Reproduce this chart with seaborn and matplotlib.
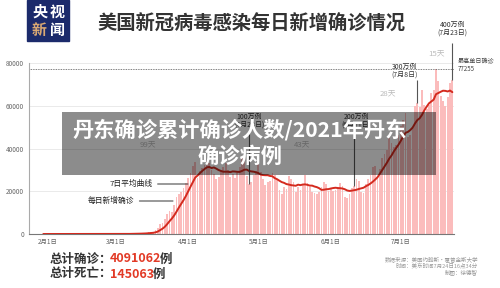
import numpy as np
import pandas as pd
import matplotlib
matplotlib.use('Agg')
import matplotlib.pyplot as plt
import seaborn as sns
from matplotlib.patches import Rectangle

#---------------data: US daily new cases, 30 Jan - 23 Jul-----------------
jan_cases = [1, 1]
feb_cases = [1, 0, 3, 0, 1, 0, 0, 0, 0, 1, 1, 0, 1, 0, 0, 0, 0, 0, 0, 0,
             0, 2, 0, 0, 0, 3, 1, 1, 6]
mar_cases = [8, 23, 20, 31, 68, 45, 140, 116, 65, 290, 271, 287, 351, 511, 777,
             823, 887, 1766, 2988, 4835, 5374, 7123, 9397, 10571, 10347, 13355,
             17224, 18691, 19452, 21500, 24000]
apr_cases = [26000, 28500, 32000, 33500, 26000, 29500, 31000, 32500, 34000, 33000,
             30000, 28000, 25500, 26500, 29500, 31500, 33000, 30000, 26500, 28000,
             26000, 28500, 31500, 36000, 34000, 27000, 23500, 24500, 27500, 29500]
may_cases = [33500, 29000, 25500, 23000, 24500, 25000, 28500, 27500, 25500, 20500,
             18500, 22000, 21000, 27000, 25500, 24500, 19500, 22000, 20500, 23000,
             27500, 24000, 22000, 19500, 19000, 18500, 19500, 22000, 24500, 23500,
             20000]
jun_cases = [21000, 20000, 20500, 21000, 24000, 22500, 17500, 17000, 18500, 21500,
             22500, 25500, 25000, 19500, 19000, 23500, 25500, 27500, 31500, 32000,
             27000, 30500, 35500, 37500, 39500, 45000, 42500, 40500, 41500, 46500]
jul_cases = [50500, 53500, 56500, 45500, 46500, 49500, 60000, 61500, 59500, 67500,
             60500, 58500, 60500, 66000, 67500, 77255, 71500, 64500, 62000, 60000,
             64000, 70500, 72000]
first_day = -2   # 30 Jan, counted from 1 Feb

tick_days = [0, 29, 60, 90, 121, 151]
tick_labels = ['2月1日', '3月1日', '4月1日', '5月1日', '6月1日', '7月1日']
y_ticks = [0, 20000, 40000, 60000, 80000]

milestone_days = [86, 131, 158, 173]
milestone_names = ['100万例', '200万例', '300万例', '400万例']
milestone_dates = ['(4月28日)', '(6月11日)', '(7月8日)', '(7月23日)']
gap_labels = ['99天', '43天', '28天', '15天']

peak_value = 77255
total_cases = 4091062
total_deaths = 145063

cases = jan_cases + feb_cases + mar_cases + apr_cases + may_cases + jun_cases + jul_cases
df = pd.DataFrame({'day': np.arange(first_day, first_day + len(cases)), 'cases': cases})
df['avg'] = df['cases'].rolling(7, min_periods=1).mean()

#---------------plot-----------------
sns.set_style('white')
plt.rcParams['font.family'] = ['Noto Sans CJK SC', 'DejaVu Sans']

W, H = 500, 288
fig = plt.figure(figsize=(5, 2.88), dpi=100)
ax = fig.add_axes([28.5 / W, 54 / H, 425.5 / W, 171 / H])

sns.barplot(data=df, x='day', y='cases', native_scale=True, color='#fbbcbc',
            saturation=1, width=0.75, errorbar=None, edgecolor='none', linewidth=0,
            ax=ax, zorder=1)
sns.lineplot(data=df, x='day', y='avg', color='#d42a1e', lw=1.4, ax=ax, zorder=3)

ax.set_xlim(-8.34, 173.7)
ax.set_ylim(0, 80000)
ax.set_xticks(tick_days)
ax.set_xticklabels(tick_labels)
ax.set_yticks(y_ticks)
ax.set_yticklabels([str(v) for v in y_ticks])
ax.set_xlabel('')
ax.set_ylabel('')
ax.yaxis.grid(True, color='#e6e6e6', lw=0.6)
ax.set_axisbelow(True)
for s in ['top', 'right']:
    ax.spines[s].set_visible(False)
ax.spines['left'].set_color('#aaaaaa')
ax.spines['left'].set_linewidth(0.8)
ax.spines['bottom'].set_color('#777777')
ax.spines['bottom'].set_linewidth(0.8)
ax.tick_params(axis='y', length=0, pad=3.2, labelsize=4.6, labelcolor='#666666')
ax.tick_params(axis='x', length=1.5, width=0.6, color='#777777', pad=1,
               labelsize=4.6, labelcolor='#666666')

# peak line
ax.axhline(peak_value, color='#555555', ls=(0, (1, 1)), lw=0.6, zorder=2)
ax.text(175.3, 78950, '最高单日确诊\n' + str(peak_value), fontsize=4.4, color='#444444',
        va='center', linespacing=1.0, clip_on=False)

# milestones
def px2val(y):
    return (234 - y) / 171 * 80000

label_y = [(121, 129), (121, 129), (71, 80), (29, 43)]
label_ha = ['center', 'center', 'right', 'center']
label_dx = [0, 1, 0.4, 0]
for d, name, date, (yc, yt), ha, dx in zip(milestone_days, milestone_names,
                                            milestone_dates, label_y, label_ha, label_dx):
    bar_top = df.loc[df['day'] == d, 'cases'].iloc[0]
    ax.vlines(d, bar_top, px2val(yt), color='#555555', lw=0.8, zorder=4, clip_on=False)
    ax.text(d + dx, px2val(yc), name + '\n' + date, ha=ha, va='center', fontsize=5,
            color='#333333', linespacing=1.0, multialignment='center', clip_on=False)

gap_pos = [(42.8, 144), (108.6, 144), (145.4, 93), (166.4, 53)]
for lab, (gx, gy) in zip(gap_labels, gap_pos):
    ax.text(gx, px2val(gy), lab, ha='center', va='center', fontsize=5.6,
            color='#bbbbbb', clip_on=False)

# legend callouts
ax.annotate('7日平均曲线', xy=(59.9, px2val(184)), xytext=(44.6, px2val(184)),
            ha='right', va='center', fontsize=5.6, color='#222222',
            arrowprops=dict(arrowstyle='-', color='#333333', lw=0.7, shrinkA=1.5, shrinkB=0))
ax.annotate('每日新增确诊', xy=(53.5, px2val(201)), xytext=(36.8, px2val(201)),
            ha='right', va='center', fontsize=5.6, color='#222222',
            arrowprops=dict(arrowstyle='-', color='#333333', lw=0.7, shrinkA=1.5, shrinkB=0))

# header
fig.add_artist(Rectangle((27 / W, 1 - 41 / H), 42 / W, 41 / H, transform=fig.transFigure,
                         color='#1b2a6b', zorder=5))
for ch, x, y, c in [('央', 39.5, 12, 'white'), ('视', 57.5, 12, 'white'),
                    ('新', 39.5, 30, '#d9a873'), ('闻', 57.5, 30, 'white')]:
    fig.text(x / W, 1 - y / H, ch, ha='center', va='center', fontsize=10.8,
             weight='bold', color=c, zorder=6)
fig.text(97 / W, 1 - 24 / H, '美国新冠病毒感染每日新增确诊情况', ha='left', va='center',
         fontsize=13.9, weight='bold', color='#333333')

# totals
fig.text(50 / W, 1 - 259 / H, '总计确诊：', fontsize=9, weight='bold', color='#333333', va='center')
fig.text(110 / W, 1 - 259 / H, str(total_cases), fontsize=9, weight='bold', color='#e23a26', va='center')
fig.text(160 / W, 1 - 259 / H, '例', fontsize=9, weight='bold', color='#333333', va='center')
fig.text(50 / W, 1 - 274 / H, '总计死亡：', fontsize=9, weight='bold', color='#333333', va='center')
fig.text(110 / W, 1 - 274 / H, str(total_deaths), fontsize=9, weight='bold', color='#e23a26', va='center')
fig.text(153 / W, 1 - 274 / H, '例', fontsize=9, weight='bold', color='#333333', va='center')

fig.text(478 / W, 1 - 266 / H,
         '数据来源：美国约翰斯·霍普金斯大学\n时间：美东时间7月24日16点34分\n制图：徐德智',
         ha='right', va='center', fontsize=4, color='#999999', linespacing=1.1,
         multialignment='right')

# watermark banner
fig.add_artist(Rectangle((62 / W, 1 - 175 / H), 374 / W, 63 / H, transform=fig.transFigure,
                         color='black', alpha=0.45, lw=0, zorder=10))
fig.text(240 / W, 1 - 130 / H, '丹东确诊累计确诊人数/2021年丹东', ha='center', va='center',
         fontsize=15.3, weight='bold', color='white', zorder=11)
fig.text(240 / W, 1 - 156 / H, '确诊病例', ha='center', va='center',
         fontsize=15.3, weight='bold', color='white', zorder=11)

fig.savefig('out.png', dpi=100)
